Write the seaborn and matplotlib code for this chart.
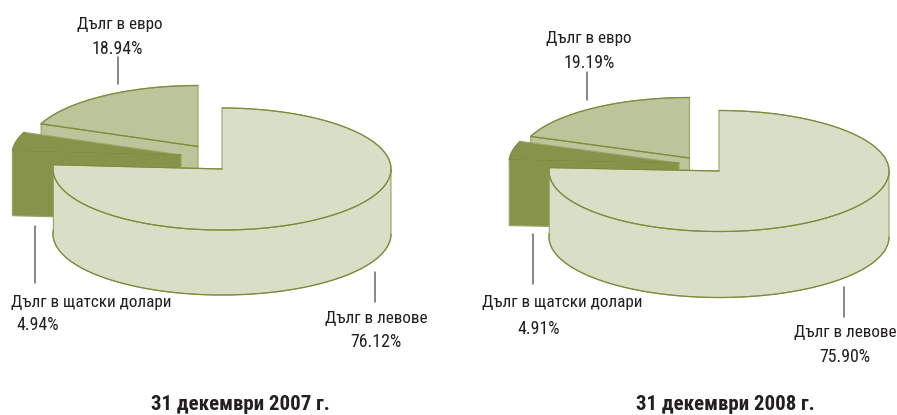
import numpy as np
import matplotlib
matplotlib.use("Agg")
import matplotlib.pyplot as plt
import seaborn as sns

# Debt by currency, percent
labels = ['Дълг в левове', 'Дълг в щатски долари', 'Дълг в евро']
values_2007 = [76.12, 4.94, 18.94]
values_2008 = [75.90, 4.91, 19.19]
dates = ['31 декември 2007 г.', '31 декември 2008 г.']

sns.set_theme(style='white')
plt.rcParams['font.family'] = ['Roboto Condensed', 'PT Sans Narrow', 'Liberation Sans', 'DejaVu Sans']

colors = sns.color_palette(['#d9dfc7', '#87934b', '#bcc59a'])
EDGE = '#7d8c3c'
EDGE_SOFT = '#98a566'
TEXT = '#231f20'
LEADER = '#666666'


def rim(cx, cy, rx, ry, a0, a1, n=120):
    # angles clockwise from 12 o'clock, in degrees
    t = np.radians(np.linspace(a0, a1, n))
    return cx + rx * np.sin(t), cy - ry * np.cos(t)


def draw_slice(ax, apex, rx, ry, depth, a0, a1, color, front=None):
    cx, cy = apex
    if front:
        xs, ys = rim(cx, cy, rx, ry, *front)
        ax.fill(np.r_[xs, xs[::-1]], np.r_[ys, ys[::-1] + depth],
                fc=color, ec=EDGE_SOFT, lw=0.8, zorder=ax.z)
        ax.plot(xs, ys + depth, color=EDGE, lw=0.9, zorder=ax.z)
        ax.z += 1
    xs, ys = rim(cx, cy, rx, ry, a0, a1)
    ax.fill(np.r_[cx, xs], np.r_[cy, ys], fc=color, ec=EDGE_SOFT, lw=0.8, zorder=ax.z)
    ax.plot(xs, ys, color=EDGE, lw=0.9, zorder=ax.z)
    ax.z += 1


def draw_pie(ax, values, apexes, rx, ry, depth):
    shares = np.array(values) / sum(values) * 360
    ends = np.cumsum(shares)
    starts = ends - shares

    # euro at the back, then dollars, levs in front
    for i in [2, 1]:
        cx, cy = apexes[i]
        xa, ya = rim(cx, cy, rx, ry, starts[i], starts[i], 1)
        ax.fill([cx, xa[0], xa[0], cx], [cy, ya[0], ya[0] + depth, cy + depth],
                fc=colors[i], ec=EDGE_SOFT, lw=0.8, zorder=ax.z)
        ax.z += 1
        draw_slice(ax, apexes[i], rx, ry, depth, starts[i], ends[i], colors[i])
        ax.plot([cx, xa[0]], [cy, ya[0]], color=EDGE, lw=0.9, zorder=ax.z)
        ax.z += 1
    draw_slice(ax, apexes[0], rx, ry, depth, starts[0], ends[0], colors[0],
               front=(90, ends[0]))
    cx, cy = apexes[0]
    xa, ya = rim(cx, cy, rx, ry, ends[0], ends[0], 1)
    ax.plot([cx, xa[0]], [cy, ya[0]], color=EDGE, lw=0.9, zorder=ax.z)


fig = plt.figure(figsize=(8.97, 4.15), dpi=100, facecolor='white')
ax = fig.add_axes([0, 0, 1, 1])
ax.set_xlim(0, 897)
ax.set_ylim(415, 0)
ax.axis('off')
ax.z = 2

draw_pie(ax, values_2007, [(222, 169), (181, 155), (198, 146.5)], 169, 61, 65)
draw_pie(ax, values_2008, [(719, 171), (679, 163), (689.5, 158)], 170, 60.5, 66)

# leader lines
for x, y0, y1 in [(118, 57, 84), (35, 226, 283), (375, 272, 302),
                  (587, 72, 100), (533, 234, 284), (844, 287, 317)]:
    ax.plot([x, x], [y0, y1], color=LEADER, lw=1.1, zorder=1)

fs = 12.3
txt = dict(fontsize=fs, color=TEXT, va='center')
ptxt = dict(fontsize=12.9, color=TEXT, va='center')
ax.text(120, 24, labels[2], ha='center', **txt)
ax.text(117, 49, f'{values_2007[2]:.2f}%', ha='center', **ptxt)
ax.text(11, 302, labels[1], ha='left', **txt)
ax.text(16, 325, f'{values_2007[1]:.2f}%', ha='left', **ptxt)
ax.text(376, 318, labels[0], ha='center', **txt)
ax.text(376, 342, f'{values_2007[0]:.2f}%', ha='center', **ptxt)

ax.text(589, 38, labels[2], ha='center', **txt)
ax.text(589, 63, f'{values_2008[2]:.2f}%', ha='center', **ptxt)
ax.text(482, 302, labels[1], ha='left', **txt)
ax.text(539, 329, f'{values_2008[1]:.2f}%', ha='center', **ptxt)
ax.text(845, 332, labels[0], ha='center', **txt)
ax.text(845, 357, f'{values_2008[0]:.2f}%', ha='center', **ptxt)

ax.text(240, 404, dates[0], ha='center', va='center', fontsize=15, fontweight='bold', color=TEXT)
ax.text(725, 404, dates[1], ha='center', va='center', fontsize=15, fontweight='bold', color=TEXT)

fig.savefig('out.png', dpi=100, facecolor='white')
